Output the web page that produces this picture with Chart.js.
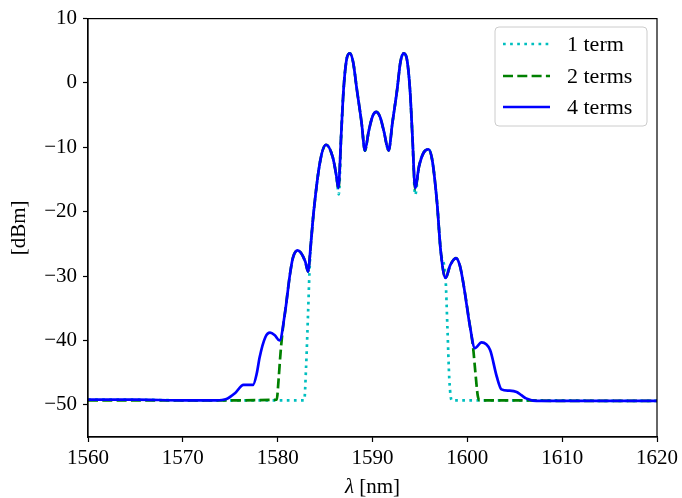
<!DOCTYPE html>
<html>
<head>
<meta charset="utf-8">
<script src="https://cdn.jsdelivr.net/npm/chart.js@4/dist/chart.umd.min.js"></script>
<style>
html,body{margin:0;padding:0;background:#fff;}
#c{display:block;}
</style>
</head>
<body>
<canvas id="c" width="682" height="498"></canvas>
<script>
// ---- data ----
const seriesNames = ["1 term", "2 terms", "4 terms"];

const lambda4 = [1560,1565,1570,1573.5,1574.6,1575.5,1576.4,1577.4,1577.8,1578.1,1578.7,1579.2,1579.7,1580.2,1580.8,1581.3,1581.6,1582.1,1582.9,1583.2,1583.5,1583.8,1584.5,1585.1,1585.8,1586.2,1586.4,1586.7,1586.95,1587.25,1587.6,1587.95,1588.35,1588.85,1589.2,1589.6,1590.0,1590.4,1590.8,1591.2,1591.7,1592.1,1592.6,1592.95,1593.3,1593.65,1593.95,1594.2,1594.5,1594.9,1595.4,1595.9,1596.3,1596.8,1597.2,1597.7,1598.2,1598.8,1599.2,1599.6,1600.3,1600.8,1601.5,1602.4,1603.1,1603.6,1604.4,1605.2,1605.7,1606.2,1607.3,1610,1615,1620];
const dbm4    = [-49.2,-49.2,-49.3,-49.3,-49.1,-48.2,-46.9,-46.9,-45.1,-42.6,-39.5,-38.8,-39.2,-40.0,-35.4,-29.7,-27.2,-26.0,-27.7,-29.3,-25.0,-20.0,-12.0,-9.6,-11.5,-14.5,-16.3,-8.0,-1.0,3.5,4.6,3.3,-1.0,-6.2,-10.5,-7.5,-5.2,-4.5,-5.3,-7.5,-10.5,-6.2,-1.0,3.3,4.6,3.5,-1.0,-8.0,-16.3,-13.0,-10.8,-10.3,-12.0,-18.5,-26.2,-30.3,-28.3,-27.2,-28.3,-31.3,-38.0,-41.2,-40.3,-41.5,-45.6,-47.6,-47.8,-48.0,-48.5,-49.0,-49.4,-49.4,-49.4,-49.4];

const lambda2 = [1560,1565,1570,1575,1579.9,1580.1,1580.3,1580.5,1580.8,1581.3,1581.6,1582.1,1582.9,1583.2,1583.5,1583.8,1584.5,1585.1,1585.8,1586.2,1586.4,1586.7,1586.95,1587.25,1587.6,1587.95,1588.35,1588.85,1589.2,1589.6,1590.0,1590.4,1590.8,1591.2,1591.7,1592.1,1592.6,1592.95,1593.3,1593.65,1593.95,1594.2,1594.5,1594.9,1595.4,1595.9,1596.3,1596.8,1597.2,1597.7,1598.2,1598.8,1599.2,1599.6,1600.3,1600.6,1600.85,1601.1,1601.3,1605,1610,1615,1620];
const dbm2    = [-49.3,-49.3,-49.3,-49.3,-49.2,-46.0,-42.0,-38.8,-35.4,-29.7,-27.2,-26.0,-27.7,-29.3,-25.0,-20.0,-12.0,-9.6,-11.5,-14.5,-16.5,-8.0,-1.0,3.5,4.6,3.3,-1.0,-6.2,-10.5,-7.5,-5.2,-4.5,-5.3,-7.5,-10.5,-6.2,-1.0,3.3,4.6,3.5,-1.0,-8.0,-16.5,-13.0,-10.8,-10.3,-12.0,-18.5,-26.2,-30.3,-28.3,-27.2,-28.3,-31.3,-38.0,-41.0,-45.0,-48.6,-49.3,-49.3,-49.4,-49.4,-49.4];

const lambda1 = [1560,1565,1570,1575,1580,1582.8,1583.0,1583.2,1583.35,1583.5,1583.8,1584.5,1585.1,1585.8,1586.2,1586.45,1586.7,1586.95,1587.25,1587.6,1587.95,1588.35,1588.85,1589.2,1589.6,1590.0,1590.4,1590.8,1591.2,1591.7,1592.1,1592.6,1592.95,1593.3,1593.65,1593.95,1594.2,1594.5,1594.9,1595.4,1595.9,1596.3,1596.8,1597.2,1597.7,1597.9,1598.1,1598.35,1600,1605,1610,1615,1620];
const dbm1    = [-49.2,-49.2,-49.3,-49.3,-49.3,-49.3,-44.0,-36.0,-29.6,-25.0,-20.0,-12.0,-9.6,-11.5,-14.5,-17.3,-8.0,-1.0,3.5,4.6,3.3,-1.0,-6.2,-10.5,-7.5,-5.2,-4.5,-5.3,-7.5,-10.5,-6.2,-1.0,3.3,4.6,3.5,-1.0,-8.0,-17.4,-13.0,-10.8,-10.3,-12.0,-18.5,-26.2,-30.3,-38.0,-46.0,-49.3,-49.3,-49.3,-49.3,-49.4,-49.4];

const xTicks = [1560,1570,1580,1590,1600,1610,1620];
const yTicks = [-50,-40,-30,-20,-10,0,10];

// ---- build chart ----
const toPts = (xs, ys) => xs.map((x, i) => ({x: x, y: ys[i]}));
const FONT = "'Liberation Serif', 'DejaVu Serif', serif";

const datasets = [
  {label: seriesNames[0], data: toPts(lambda1, dbm1), borderColor: '#00BFBF', borderWidth: 2.7, borderDash: [2.7, 4.4], order: 3},
  {label: seriesNames[1], data: toPts(lambda2, dbm2), borderColor: '#008000', borderWidth: 2.7, borderDash: [10, 4.3], order: 2},
  {label: seriesNames[2], data: toPts(lambda4, dbm4), borderColor: '#0000FF', borderWidth: 2.7, borderDash: [], order: 1}
];
datasets.forEach(d => {
  d.pointRadius = 0;
  d.fill = false;
  d.cubicInterpolationMode = 'monotone';
  d.borderCapStyle = 'butt';
  d.borderJoinStyle = 'round';
});

const decor = {
  id: 'decor',
  afterDraw(chart) {
    const ctx = chart.ctx;
    const a = chart.chartArea;
    ctx.save();
    // frame
    ctx.strokeStyle = '#000';
    ctx.lineWidth = 1.2;
    ctx.strokeRect(a.left, a.top, a.right - a.left, a.bottom - a.top);

    // axis titles
    ctx.fillStyle = '#000';
    ctx.textBaseline = 'alphabetic';
    const xt1 = 'λ', xt2 = ' [nm]';
    ctx.font = 'italic 21px ' + FONT;
    const w1 = ctx.measureText(xt1).width;
    ctx.font = '21px ' + FONT;
    const w2 = ctx.measureText(xt2).width;
    const cx = (a.left + a.right) / 2;
    let sx = cx - (w1 + w2) / 2;
    ctx.font = 'italic 21px ' + FONT;
    ctx.textAlign = 'left';
    ctx.fillText(xt1, sx, 493);
    ctx.font = '21px ' + FONT;
    ctx.fillText(xt2, sx + w1, 493);

    ctx.save();
    ctx.translate(25, (a.top + a.bottom) / 2);
    ctx.rotate(-Math.PI / 2);
    ctx.textAlign = 'center';
    ctx.font = '21px ' + FONT;
    ctx.fillText('[dBm]', 0, 0);
    ctx.restore();

    // legend
    const bx = 495, by = 27, bw = 152, bh = 99, r = 4;
    ctx.beginPath();
    ctx.moveTo(bx + r, by);
    ctx.lineTo(bx + bw - r, by);
    ctx.quadraticCurveTo(bx + bw, by, bx + bw, by + r);
    ctx.lineTo(bx + bw, by + bh - r);
    ctx.quadraticCurveTo(bx + bw, by + bh, bx + bw - r, by + bh);
    ctx.lineTo(bx + r, by + bh);
    ctx.quadraticCurveTo(bx, by + bh, bx, by + bh - r);
    ctx.lineTo(bx, by + r);
    ctx.quadraticCurveTo(bx, by, bx + r, by);
    ctx.closePath();
    ctx.fillStyle = 'rgba(255,255,255,0.8)';
    ctx.fill();
    ctx.strokeStyle = '#cccccc';
    ctx.lineWidth = 1;
    ctx.stroke();

    const rows = [44, 76, 107];
    chart.data.datasets.forEach((d, i) => {
      const y = rows[i];
      ctx.beginPath();
      ctx.setLineDash(d.borderDash || []);
      ctx.strokeStyle = d.borderColor;
      ctx.lineWidth = d.borderWidth;
      ctx.moveTo(503, y);
      ctx.lineTo(550, y);
      ctx.stroke();
      ctx.setLineDash([]);
      ctx.fillStyle = '#000';
      ctx.font = '22px ' + FONT;
      ctx.textAlign = 'left';
      ctx.textBaseline = 'middle';
      ctx.fillText(d.label, 567, y + 1);
    });
    ctx.restore();
  }
};

new Chart(document.getElementById('c'), {
  type: 'line',
  data: {datasets: datasets},
  options: {
    responsive: false,
    animation: false,
    devicePixelRatio: 1,
    layout: {padding: {top: 15, right: 25, left: 0, bottom: 0}},
    plugins: {legend: {display: false}, tooltip: {enabled: false}},
    scales: {
      x: {
        type: 'linear',
        min: 1560, max: 1620,
        afterBuildTicks: s => { s.ticks = xTicks.map(v => ({value: v})); },
        afterFit: s => { s.height = 61; },
        grid: {display: true, drawOnChartArea: false, drawTicks: true, tickLength: 5, tickColor: '#000', tickWidth: 1.2},
        border: {display: true, color: '#000', width: 1.2},
        ticks: {color: '#000', font: {family: FONT, size: 21}, padding: 4, maxRotation: 0, autoSkip: false,
                callback: v => String(v)}
      },
      y: {
        type: 'linear',
        min: -55, max: 10,
        afterBuildTicks: s => { s.ticks = yTicks.map(v => ({value: v})); },
        afterFit: s => { s.width = 88; },
        grid: {display: true, drawOnChartArea: false, drawTicks: true, tickLength: 5, tickColor: '#000', tickWidth: 1.2},
        border: {display: true, color: '#000', width: 1.2},
        ticks: {color: '#000', font: {family: FONT, size: 21}, padding: 6, autoSkip: false,
                callback: v => (v < 0 ? '\u2212' + Math.abs(v) : String(v))}
      }
    }
  },
  plugins: [decor]
});
</script>
</body>
</html>
